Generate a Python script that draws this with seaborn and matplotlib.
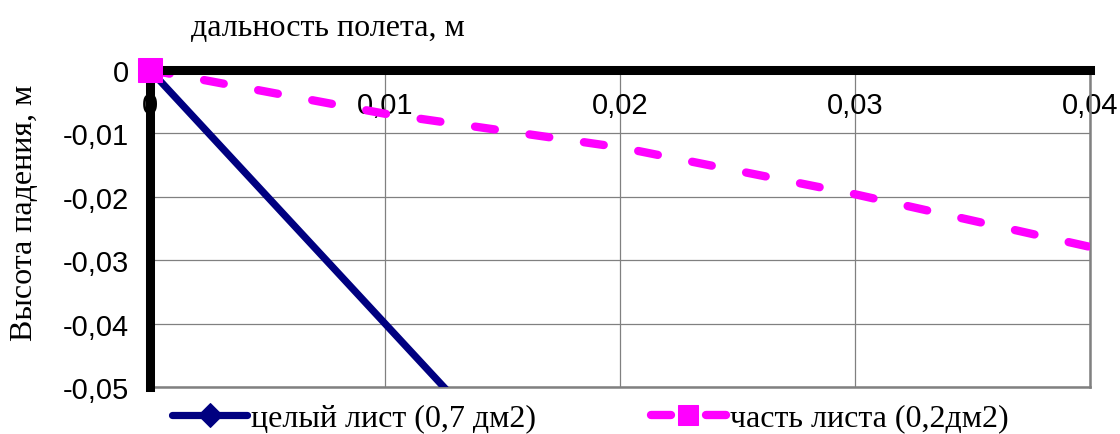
import matplotlib
matplotlib.use("Agg")
import matplotlib.pyplot as plt
import seaborn as sns
import pandas as pd

# ---- data ----
series_names = ["целый лист (0,7 дм2)", "часть листа (0,2дм2)"]
x_whole = [0.0, 0.01, 0.02]
y_whole = [0.0, -0.04, -0.08]
x_part = [0.0, 0.01, 0.02, 0.03, 0.04]
y_part = [0.0, -0.0069, -0.0122, -0.0196, -0.0279]
x_ticks = [0.0, 0.01, 0.02, 0.03, 0.04]
x_tick_labels = ["0", "0,01", "0,02", "0,03", "0,04"]
y_ticks = [0.0, -0.01, -0.02, -0.03, -0.04, -0.05]
y_tick_labels = ["0", "-0,01", "-0,02", "-0,03", "-0,04", "-0,05"]
x_label = "дальность полета, м"
y_label = "Высота падения, м"

sns.set_theme(style="white")
plt.rcParams["font.family"] = ["Liberation Sans", "DejaVu Sans"]

fig = plt.figure(figsize=(11.2, 4.35), dpi=100)
ax = fig.add_axes([150 / 1120, 1 - 388 / 435, 940 / 1120, 317 / 435])

blue = "#000080"
pink = "#FF00FF"

df_whole = pd.DataFrame({"x": x_whole, "y": y_whole})
df_part = pd.DataFrame({"x": x_part, "y": y_part})

sns.lineplot(data=df_whole, x="x", y="y", ax=ax, sort=False, color=blue,
             linewidth=5.2, solid_capstyle="round", marker="D", markersize=12,
             markevery=[0], markeredgecolor=blue, markerfacecolor=blue, zorder=3)
sns.lineplot(data=df_part, x="x", y="y", ax=ax, sort=False, color=pink,
             linewidth=6, dashes=(2.4, 4.2), dash_capstyle="round",
             marker="s", markersize=15, markevery=[0],
             markeredgecolor=pink, markerfacecolor=pink, zorder=3)
lines = ax.get_lines()
h_whole, h_part = lines[0], lines[1]

# unclipped first-point markers drawn over the axis lines
sns.lineplot(data=df_whole, x="x", y="y", ax=ax, sort=False, color=blue,
             linestyle="none", marker="D", markersize=12, markevery=[0],
             markeredgecolor=blue, clip_on=False, zorder=6)
sns.lineplot(data=df_part, x="x", y="y", ax=ax, sort=False, color=pink,
             linestyle="none", marker="s", markersize=17, markevery=[0],
             markeredgecolor=pink, clip_on=False, zorder=7)

ax.set_xlim(0, 0.04)
ax.set_ylim(-0.05, 0)

ax.set_xticks(x_ticks)
ax.set_xticklabels(x_tick_labels)
ax.set_yticks(y_ticks)
ax.set_yticklabels(y_tick_labels)
ax.xaxis.tick_top()
ax.tick_params(axis="x", length=0, pad=-35, labelsize=21, labelcolor="black")
ax.tick_params(axis="y", length=0, pad=15, labelsize=21, labelcolor="black")

ax.grid(True, color="#808080", linewidth=0.9)
ax.set_axisbelow(True)

for side in ["top", "left"]:
    ax.spines[side].set_visible(True)
    ax.spines[side].set_color("black")
    ax.spines[side].set_linewidth(6.5)
    ax.spines[side].set_zorder(4)
for side in ["bottom", "right"]:
    ax.spines[side].set_visible(True)
    ax.spines[side].set_color("#808080")
    ax.spines[side].set_linewidth(1.8)

ax.set_xlabel("")
ax.set_ylabel("")
serif = ["Liberation Serif", "DejaVu Serif"]
fig.text(328 / 1120, 1 - 29 / 435, x_label, ha="center", va="center",
         fontsize=23, family=serif, color="black")
fig.text(25 / 1120, 1 - 213 / 435, y_label, ha="center", va="center",
         rotation=90, fontsize=23, family=serif, color="black")

leg = fig.legend([h_whole, h_part], series_names, loc="center left",
                 bbox_to_anchor=(172 / 1120, 1 - 419 / 435), ncol=2,
                 frameon=False, handlelength=2.35, handletextpad=0.12,
                 columnspacing=3.6, borderaxespad=0, borderpad=0,
                 prop={"family": serif, "size": 23})
for t in leg.get_texts():
    t.set_color("black")

fig.savefig("out.png", dpi=100)
